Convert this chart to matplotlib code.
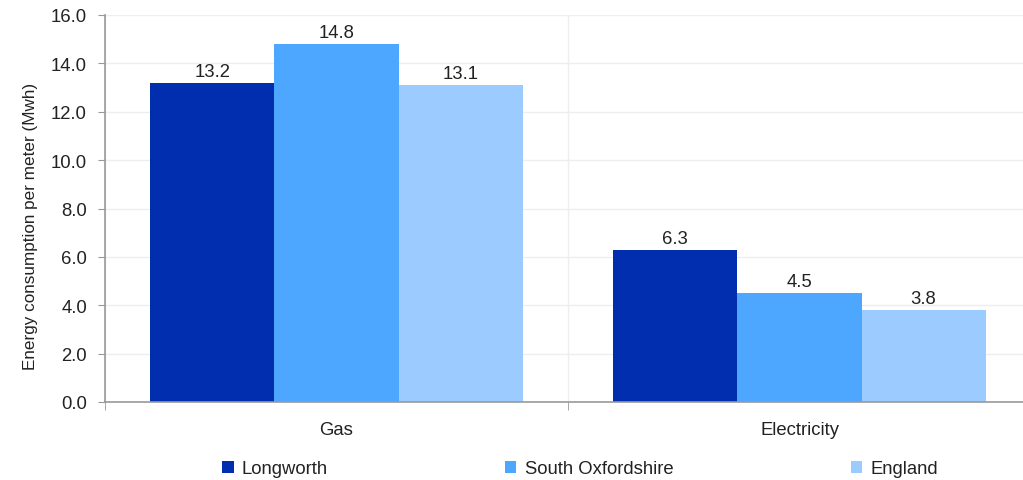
import numpy as np
import matplotlib.pyplot as plt

# Дані
categories = ['Gas', 'Electricity']
series_names = ['Longworth', 'South Oxfordshire', 'England']
longworth = [13.2, 6.3]
south_oxon = [14.8, 4.5]
england = [13.1, 3.8]
y_ticks = [0, 2, 4, 6, 8, 10, 12, 14, 16]

colors = ['#012daf', '#4ea7ff', '#9bcbff']
fs = 13.3

plt.rcParams['font.family'] = ['Liberation Sans', 'DejaVu Sans']
plt.rcParams['font.size'] = fs

fig = plt.figure(figsize=(10.23, 4.81), dpi=100)
ax = fig.add_axes([105 / 1023, (481 - 403) / 481, (1031 - 105) / 1023, (403 - 16) / 481])

x = np.arange(len(categories))
w = 0.268
for i, (vals, name) in enumerate(zip([longworth, south_oxon, england], series_names)):
    bars = ax.bar(x + (i - 1) * w, vals, w, color=colors[i], label=name, zorder=3)
    ax.bar_label(bars, labels=[f'{v:.1f}' for v in vals], padding=2, fontsize=fs, color='#222222')

ax.set_xlim(-0.5, 1.5)
ax.set_ylim(0, 16)
ax.set_yticks(y_ticks)
ax.set_yticklabels([f'{v:.1f}' for v in y_ticks])
ax.set_xticks(x)
ax.set_xticklabels(categories)
ax.set_xticks([-0.5, 0.5, 1.5], minor=True)
ax.tick_params(axis='x', which='major', length=0, pad=14, labelsize=fs, labelcolor='#222222')
ax.tick_params(axis='x', which='minor', length=6, color='#999999')
ax.tick_params(axis='y', length=5, pad=8, color='#999999', labelsize=fs, labelcolor='#222222')

ax.grid(axis='y', color='#eeeeee', linewidth=1, zorder=0)
ax.grid(axis='x', which='minor', color='#eeeeee', linewidth=1, zorder=0)

for s in ['top', 'right']:
    ax.spines[s].set_visible(False)
for s in ['left', 'bottom']:
    ax.spines[s].set_color('#999999')
    ax.spines[s].set_linewidth(1.2)
ax.spines['bottom'].set_zorder(4)

ax.set_ylabel('Energy consumption per meter (Mwh)', fontsize=12.3, color='#222222', labelpad=9)
ax.yaxis.label.set_y(0.457)

fig.legend(loc='center', bbox_to_anchor=(0.567, 1 - 470 / 481), ncol=3, frameon=False,
           handlelength=0.6, handleheight=0.6, handletextpad=0.45, columnspacing=9.6,
           fontsize=fs, labelcolor='#222222')

fig.savefig('out.png', dpi=100)
